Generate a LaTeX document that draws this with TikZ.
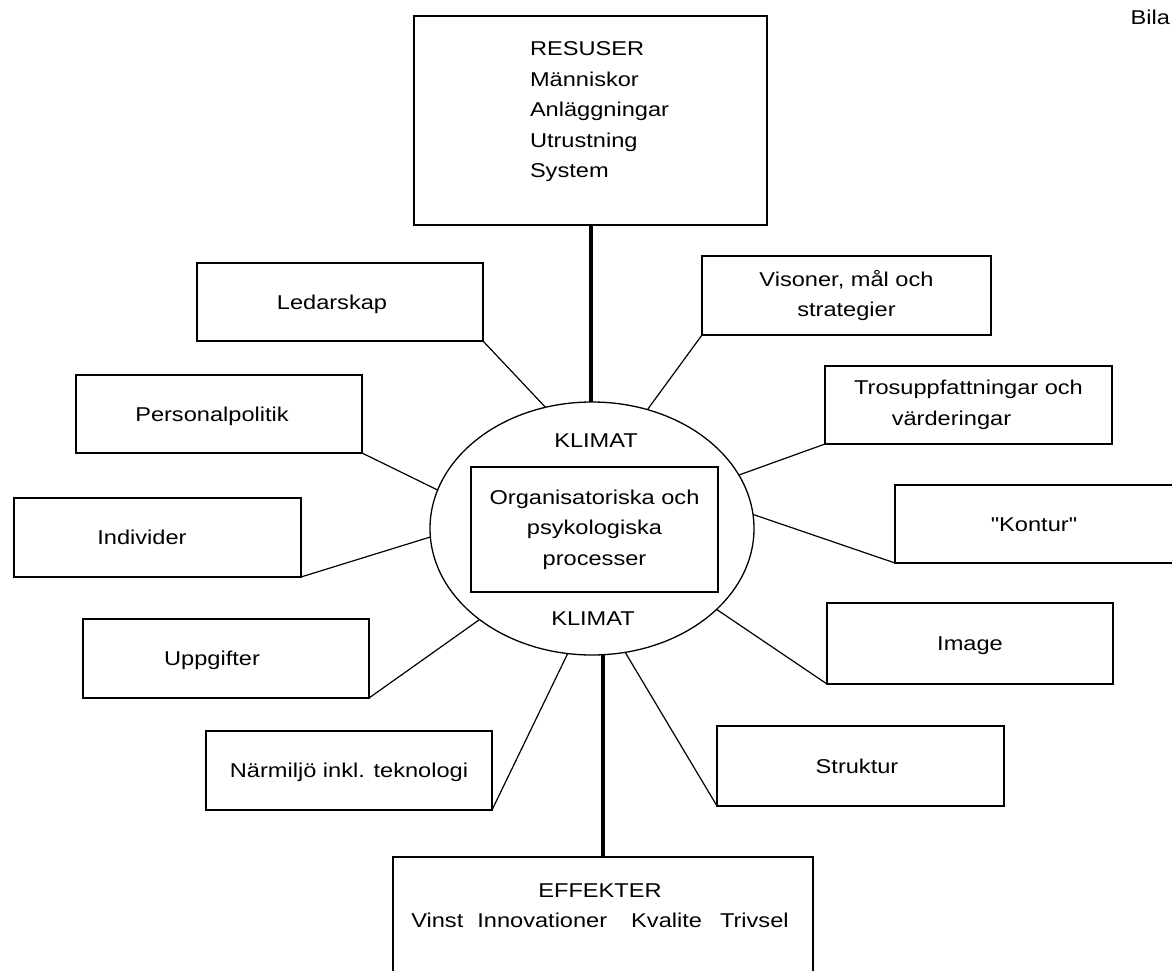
\documentclass[tikz,border=0pt]{standalone}
\usepackage{fontspec}
\setmainfont{Liberation Sans}[FakeStretch=1.18]
\setmonofont{Liberation Sans}[FakeStretch=1.18]
\usetikzlibrary{shapes.geometric}
\begin{document}
\begin{tikzpicture}[x=1pt,y=-1pt,
  txt/.style={font=\fontsize{20}{30.5}\selectfont, inner sep=0pt, outer sep=0pt},
  box/.style={txt, draw, rectangle, line width=1.5pt, align=center},
  one/.style={text height=14pt, text depth=0pt},
  conn/.style={line width=1.2pt},
  spoke/.style={line width=4pt}]
\useasboundingbox (0,0) rectangle (1172,971);
\clip (0,0) rectangle (1172,971);

% central ellipse and process box
\node[ellipse, draw, line width=1.3pt, inner sep=0pt, outer sep=0pt,
      minimum width=324pt, minimum height=253pt] (ell) at (592,528.5) {};
\node[box, minimum width=247pt, minimum height=125pt] (proc) at (594.5,529.5)
  {Organisatoriska och\\psykologiska\\processer};
\node[txt, one] (klimA) at (596,440) {KLIMAT};
\node[txt, one] (klimB) at (593,618) {KLIMAT};

% top and bottom boxes
\node[box, minimum width=353pt, minimum height=209pt] (res) at (590.5,120.5) {};
\node[txt, align=left, anchor=west] (restxt) at (530,112)
  {RESUSER\\Människor\\Anläggningar\\Utrustning\\System};
\node[box, minimum width=420pt, minimum height=143pt] (eff) at (603,928.5) {};
\node[txt, align=center] (efftxt) at (600,905.5)
  {EFFEKTER\\Vinst\hspace{14pt}Innovationer\hspace{24pt}Kvalite\hspace{18pt}Trivsel};

% left boxes
\node[box, one, minimum width=286pt, minimum height=78pt] (led) at (340,302) {Ledarskap\hspace*{16pt}};
\node[box, one, minimum width=286pt, minimum height=78pt] (pers) at (219,414) {Personalpolitik\hspace*{14pt}};
\node[box, one, minimum width=287pt, minimum height=79pt] (ind) at (157.5,537.5) {Individer\hspace*{31pt}};
\node[box, one, minimum width=286pt, minimum height=79pt] (upp) at (226,658.5) {Uppgifter\hspace*{28pt}};
\node[box, one, minimum width=286pt, minimum height=79pt] (narm) at (349,770.5) {Närmiljö inkl. teknologi};

% right boxes
\node[box, minimum width=289pt, minimum height=79pt] (vis) at (846.5,295.5) {Visoner, mål och\\strategier};
\node[box, minimum width=287pt, minimum height=78pt] (tros) at (968.5,405) {Trosuppfattningar och\\värderingar\hspace*{34pt}};
\node[box, one, minimum width=305pt, minimum height=78pt] (kont) at (1047.5,524) {{\ttfamily "Kontur"}\hspace*{27pt}};
\node[box, one, minimum width=286pt, minimum height=81pt] (img) at (970,643.5) {Image};
\node[box, one, minimum width=287pt, minimum height=80pt] (str) at (860.5,766) {Struktur\hspace*{7pt}};

\node[txt, one, anchor=east] (bila) at (1170,18) {Bila};

% spokes
\draw[spoke] (res.south) -- (res.south |- ell.north);
\draw[spoke] (eff.north) -- (eff.north |- ell.south);

% connectors
\draw[conn] (led.south east) -- (ell.111.7);
\draw[conn] (pers.south east) -- (ell.166.7);
\draw[conn] (ind.south east) -- (ell.-177.7);
\draw[conn] (upp.south east) -- (ell.-141.1);
\draw[conn] (narm.south east) -- (ell.-101.2);
\draw[conn] (vis.south west) -- (ell.65.5);
\draw[conn] (tros.south west) -- (ell.20);
\draw[conn] (kont.south west) -- (ell.5.6);
\draw[conn] (img.south west) -- (ell.-33.4);
\draw[conn] (str.south west) -- (ell.-75);
\end{tikzpicture}
\end{document}
